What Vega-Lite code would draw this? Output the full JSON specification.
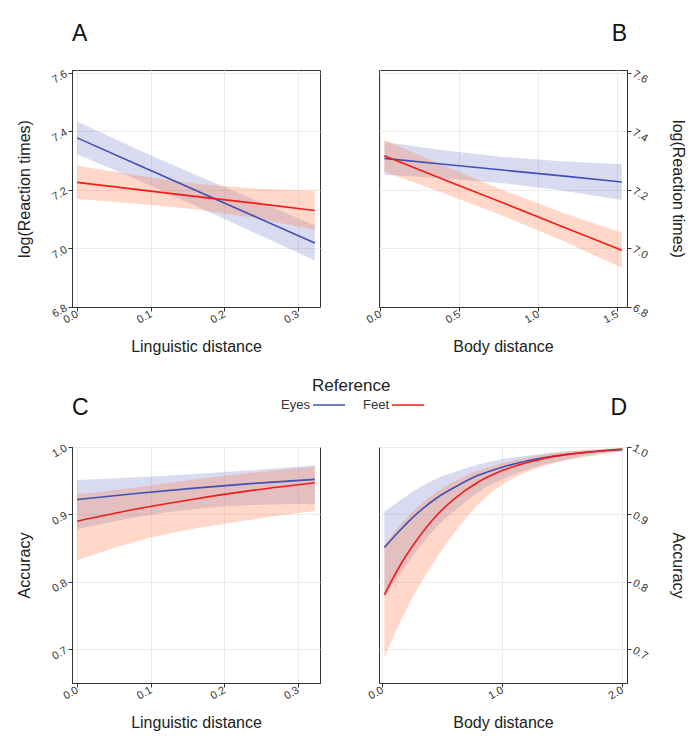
{
  "$schema": "https://vega.github.io/schema/vega-lite/v6.json",
  "background": "white",
  "padding": {"left": 16, "top": 22, "right": 4, "bottom": 4},
  "autosize": {"type": "pad"},
  "config": {
    "font": "Liberation Sans",
    "view": {"stroke": "#333333", "strokeWidth": 1},
    "axis": {"gridColor": "#EBEBEB", "gridWidth": 1, "domainColor": "#333333", "tickColor": "#333333", "tickSize": 4, "labelFontSize": 11, "labelColor": "#333333", "titleFontSize": 16, "titleFontWeight": "normal", "titleColor": "#222222"},
    "title": {"fontSize": 23, "fontWeight": "normal", "color": "#111111"},
    "legend": {"orient": "none", "direction": "horizontal", "titleAnchor": "start", "titleFontSize": 17, "titleFontWeight": "normal", "titleColor": "#222222", "labelFontSize": 13, "labelColor": "#333333", "symbolType": "stroke", "symbolSize": 1024, "symbolStrokeWidth": 1.5, "labelAlign": "right", "labelOffset": -36, "columnPadding": 14, "titlePadding": -7}
  },
  "datasets": {
    "A": [
      {"ref": "Eyes", "x": 0, "fit": 7.378, "lo": 7.322, "hi": 7.434},
      {"ref": "Eyes", "x": 0.08, "fit": 7.289, "lo": 7.237, "hi": 7.341},
      {"ref": "Eyes", "x": 0.16, "fit": 7.200, "lo": 7.147, "hi": 7.253},
      {"ref": "Eyes", "x": 0.24, "fit": 7.111, "lo": 7.055, "hi": 7.167},
      {"ref": "Eyes", "x": 0.323, "fit": 7.019, "lo": 6.959, "hi": 7.079},
      {"ref": "Feet", "x": 0, "fit": 7.226, "lo": 7.169, "hi": 7.283},
      {"ref": "Feet", "x": 0.08, "fit": 7.202, "lo": 7.154, "hi": 7.250},
      {"ref": "Feet", "x": 0.16, "fit": 7.178, "lo": 7.134, "hi": 7.222},
      {"ref": "Feet", "x": 0.24, "fit": 7.155, "lo": 7.105, "hi": 7.205},
      {"ref": "Feet", "x": 0.323, "fit": 7.130, "lo": 7.063, "hi": 7.197}
    ],
    "B": [
      {"ref": "Eyes", "x": 0.025, "fit": 7.308, "lo": 7.252, "hi": 7.364},
      {"ref": "Eyes", "x": 0.4, "fit": 7.288, "lo": 7.240, "hi": 7.336},
      {"ref": "Eyes", "x": 0.775, "fit": 7.268, "lo": 7.223, "hi": 7.313},
      {"ref": "Eyes", "x": 1.15, "fit": 7.248, "lo": 7.198, "hi": 7.298},
      {"ref": "Eyes", "x": 1.528, "fit": 7.227, "lo": 7.166, "hi": 7.288},
      {"ref": "Feet", "x": 0.025, "fit": 7.317, "lo": 7.262, "hi": 7.372},
      {"ref": "Feet", "x": 0.4, "fit": 7.236, "lo": 7.189, "hi": 7.283},
      {"ref": "Feet", "x": 0.775, "fit": 7.156, "lo": 7.112, "hi": 7.200},
      {"ref": "Feet", "x": 1.15, "fit": 7.075, "lo": 7.027, "hi": 7.123},
      {"ref": "Feet", "x": 1.528, "fit": 6.994, "lo": 6.934, "hi": 7.054}
    ],
    "C": [
      {"ref": "Eyes", "x": 0, "fit": 0.922, "lo": 0.878, "hi": 0.951},
      {"ref": "Eyes", "x": 0.08, "fit": 0.931, "lo": 0.896, "hi": 0.955},
      {"ref": "Eyes", "x": 0.16, "fit": 0.939, "lo": 0.908, "hi": 0.960},
      {"ref": "Eyes", "x": 0.24, "fit": 0.946, "lo": 0.914, "hi": 0.966},
      {"ref": "Eyes", "x": 0.323, "fit": 0.952, "lo": 0.916, "hi": 0.973},
      {"ref": "Feet", "x": 0, "fit": 0.890, "lo": 0.832, "hi": 0.930},
      {"ref": "Feet", "x": 0.08, "fit": 0.908, "lo": 0.860, "hi": 0.940},
      {"ref": "Feet", "x": 0.16, "fit": 0.923, "lo": 0.879, "hi": 0.952},
      {"ref": "Feet", "x": 0.24, "fit": 0.936, "lo": 0.893, "hi": 0.962},
      {"ref": "Feet", "x": 0.323, "fit": 0.947, "lo": 0.905, "hi": 0.971}
    ],
    "D": [
      {"ref": "Eyes", "x": 0.017, "fit": 0.851, "lo": 0.776, "hi": 0.904},
      {"ref": "Eyes", "x": 0.15, "fit": 0.877, "lo": 0.812, "hi": 0.921},
      {"ref": "Eyes", "x": 0.3, "fit": 0.903, "lo": 0.849, "hi": 0.939},
      {"ref": "Eyes", "x": 0.45, "fit": 0.924, "lo": 0.881, "hi": 0.953},
      {"ref": "Eyes", "x": 0.6, "fit": 0.940, "lo": 0.905, "hi": 0.963},
      {"ref": "Eyes", "x": 0.8, "fit": 0.958, "lo": 0.933, "hi": 0.974},
      {"ref": "Eyes", "x": 1.0, "fit": 0.970, "lo": 0.952, "hi": 0.982},
      {"ref": "Eyes", "x": 1.25, "fit": 0.981, "lo": 0.969, "hi": 0.988},
      {"ref": "Eyes", "x": 1.5, "fit": 0.988, "lo": 0.980, "hi": 0.993},
      {"ref": "Eyes", "x": 1.75, "fit": 0.993, "lo": 0.989, "hi": 0.996},
      {"ref": "Eyes", "x": 2.0, "fit": 0.996, "lo": 0.993, "hi": 0.998},
      {"ref": "Feet", "x": 0.017, "fit": 0.781, "lo": 0.688, "hi": 0.855},
      {"ref": "Feet", "x": 0.15, "fit": 0.825, "lo": 0.741, "hi": 0.885},
      {"ref": "Feet", "x": 0.3, "fit": 0.865, "lo": 0.792, "hi": 0.912},
      {"ref": "Feet", "x": 0.45, "fit": 0.898, "lo": 0.835, "hi": 0.933},
      {"ref": "Feet", "x": 0.6, "fit": 0.923, "lo": 0.873, "hi": 0.949},
      {"ref": "Feet", "x": 0.8, "fit": 0.948, "lo": 0.915, "hi": 0.965},
      {"ref": "Feet", "x": 1.0, "fit": 0.965, "lo": 0.944, "hi": 0.976},
      {"ref": "Feet", "x": 1.25, "fit": 0.979, "lo": 0.966, "hi": 0.986},
      {"ref": "Feet", "x": 1.5, "fit": 0.988, "lo": 0.979, "hi": 0.993},
      {"ref": "Feet", "x": 1.75, "fit": 0.993, "lo": 0.987, "hi": 0.996},
      {"ref": "Feet", "x": 2.0, "fit": 0.997, "lo": 0.994, "hi": 0.998}
    ]
  },
  "columns": 2,
  "spacing": {"row": 40, "column": 42},
  "resolve": {"scale": {"x": "independent", "y": "independent", "color": "shared"}, "legend": {"color": "shared"}},
  "concat": [
    {
      "width": 248, "height": 237,
      "title": {"text": "A", "anchor": "start", "frame": "group", "offset": 22},
      "data": {"name": "A"},
      "encoding": {
        "x": {"field": "x", "type": "quantitative", "scale": {"domain": [-0.007, 0.33], "nice": false, "zero": false},
              "axis": {"title": "Linguistic distance", "values": [0, 0.1, 0.2, 0.3], "format": ".1f", "labelAngle": -30, "labelAlign": "right", "labelBaseline": "middle", "titlePadding": 14}},
        "y": {"field": "lo", "type": "quantitative", "scale": {"domain": [6.8, 7.61], "nice": false, "zero": false},
              "axis": {"title": "log(Reaction times)", "values": [6.8, 7.0, 7.2, 7.4, 7.6], "format": ".1f", "labelAngle": -30, "labelAlign": "right", "labelBaseline": "middle", "titlePadding": 17}}
      },
      "layer": [
        {"transform": [{"filter": "datum.ref === 'Eyes'"}],
         "mark": {"type": "area", "fill": "#3F51B5", "fillOpacity": 0.2},
         "encoding": {"y2": {"field": "hi"}}},
        {"transform": [{"filter": "datum.ref === 'Feet'"}],
         "mark": {"type": "area", "fill": "#FF7F50", "fillOpacity": 0.3},
         "encoding": {"y2": {"field": "hi"}}},
        {"mark": {"type": "line", "strokeWidth": 1.6},
         "encoding": {
           "y": {"field": "fit", "type": "quantitative"},
           "color": {"field": "ref", "type": "nominal", "title": "Reference", "scale": {"domain": ["Eyes", "Feet"], "range": ["#3F51B5", "#F51A1A"]}, "legend": {"legendX": 240, "legendY": 308}}
         }}
      ]
    },
    {
      "width": 248, "height": 237,
      "title": {"text": "B", "anchor": "end", "frame": "group", "offset": 22},
      "data": {"name": "B"},
      "encoding": {
        "x": {"field": "x", "type": "quantitative", "scale": {"domain": [-0.009, 1.561], "nice": false, "zero": false},
              "axis": {"title": "Body distance", "values": [0, 0.5, 1.0, 1.5], "format": ".1f", "labelAngle": -30, "labelAlign": "right", "labelBaseline": "middle", "titlePadding": 14}},
        "y": {"field": "lo", "type": "quantitative", "scale": {"domain": [6.8, 7.61], "nice": false, "zero": false},
              "axis": {"orient": "right", "title": "log(Reaction times)", "values": [6.8, 7.0, 7.2, 7.4, 7.6], "format": ".1f", "labelAngle": 30, "labelAlign": "left", "labelBaseline": "middle", "titlePadding": 20}}
      },
      "layer": [
        {"transform": [{"filter": "datum.ref === 'Eyes'"}],
         "mark": {"type": "area", "fill": "#3F51B5", "fillOpacity": 0.2},
         "encoding": {"y2": {"field": "hi"}}},
        {"transform": [{"filter": "datum.ref === 'Feet'"}],
         "mark": {"type": "area", "fill": "#FF7F50", "fillOpacity": 0.3},
         "encoding": {"y2": {"field": "hi"}}},
        {"mark": {"type": "line", "strokeWidth": 1.6},
         "encoding": {
           "y": {"field": "fit", "type": "quantitative"},
           "color": {"field": "ref", "type": "nominal", "title": "Reference", "scale": {"domain": ["Eyes", "Feet"], "range": ["#3F51B5", "#F51A1A"]}, "legend": {"legendX": 240, "legendY": 308}}
         }}
      ]
    },
    {
      "width": 248, "height": 236,
      "title": {"text": "C", "anchor": "start", "frame": "group", "offset": 22},
      "data": {"name": "C"},
      "encoding": {
        "x": {"field": "x", "type": "quantitative", "scale": {"domain": [-0.007, 0.33], "nice": false, "zero": false},
              "axis": {"title": "Linguistic distance", "values": [0, 0.1, 0.2, 0.3], "format": ".1f", "labelAngle": -30, "labelAlign": "right", "labelBaseline": "middle", "titlePadding": 14}},
        "y": {"field": "lo", "type": "quantitative", "scale": {"domain": [0.65, 1.0], "nice": false, "zero": false},
              "axis": {"title": "Accuracy", "values": [0.7, 0.8, 0.9, 1.0], "format": ".1f", "labelAngle": -30, "labelAlign": "right", "labelBaseline": "middle", "titlePadding": 17}}
      },
      "layer": [
        {"transform": [{"filter": "datum.ref === 'Eyes'"}],
         "mark": {"type": "area", "fill": "#3F51B5", "fillOpacity": 0.2, "interpolate": "monotone"},
         "encoding": {"y2": {"field": "hi"}}},
        {"transform": [{"filter": "datum.ref === 'Feet'"}],
         "mark": {"type": "area", "fill": "#FF7F50", "fillOpacity": 0.3, "interpolate": "monotone"},
         "encoding": {"y2": {"field": "hi"}}},
        {"mark": {"type": "line", "strokeWidth": 1.6, "interpolate": "monotone"},
         "encoding": {
           "y": {"field": "fit", "type": "quantitative"},
           "color": {"field": "ref", "type": "nominal", "title": "Reference", "scale": {"domain": ["Eyes", "Feet"], "range": ["#3F51B5", "#F51A1A"]}, "legend": {"legendX": 240, "legendY": 308}}
         }}
      ]
    },
    {
      "width": 248, "height": 236,
      "title": {"text": "D", "anchor": "end", "frame": "group", "offset": 22},
      "data": {"name": "D"},
      "encoding": {
        "x": {"field": "x", "type": "quantitative", "scale": {"domain": [-0.028, 2.04], "nice": false, "zero": false},
              "axis": {"title": "Body distance", "values": [0, 1.0, 2.0], "format": ".1f", "labelAngle": -30, "labelAlign": "right", "labelBaseline": "middle", "titlePadding": 14}},
        "y": {"field": "lo", "type": "quantitative", "scale": {"domain": [0.65, 1.0], "nice": false, "zero": false},
              "axis": {"orient": "right", "title": "Accuracy", "values": [0.7, 0.8, 0.9, 1.0], "format": ".1f", "labelAngle": 30, "labelAlign": "left", "labelBaseline": "middle", "titlePadding": 20}}
      },
      "layer": [
        {"transform": [{"filter": "datum.ref === 'Eyes'"}],
         "mark": {"type": "area", "fill": "#3F51B5", "fillOpacity": 0.2, "interpolate": "monotone"},
         "encoding": {"y2": {"field": "hi"}}},
        {"transform": [{"filter": "datum.ref === 'Feet'"}],
         "mark": {"type": "area", "fill": "#FF7F50", "fillOpacity": 0.3, "interpolate": "monotone"},
         "encoding": {"y2": {"field": "hi"}}},
        {"mark": {"type": "line", "strokeWidth": 1.6, "interpolate": "monotone"},
         "encoding": {
           "y": {"field": "fit", "type": "quantitative"},
           "color": {"field": "ref", "type": "nominal", "title": "Reference", "scale": {"domain": ["Eyes", "Feet"], "range": ["#3F51B5", "#F51A1A"]}, "legend": {"legendX": 240, "legendY": 308}}
         }}
      ]
    }
  ]
}
